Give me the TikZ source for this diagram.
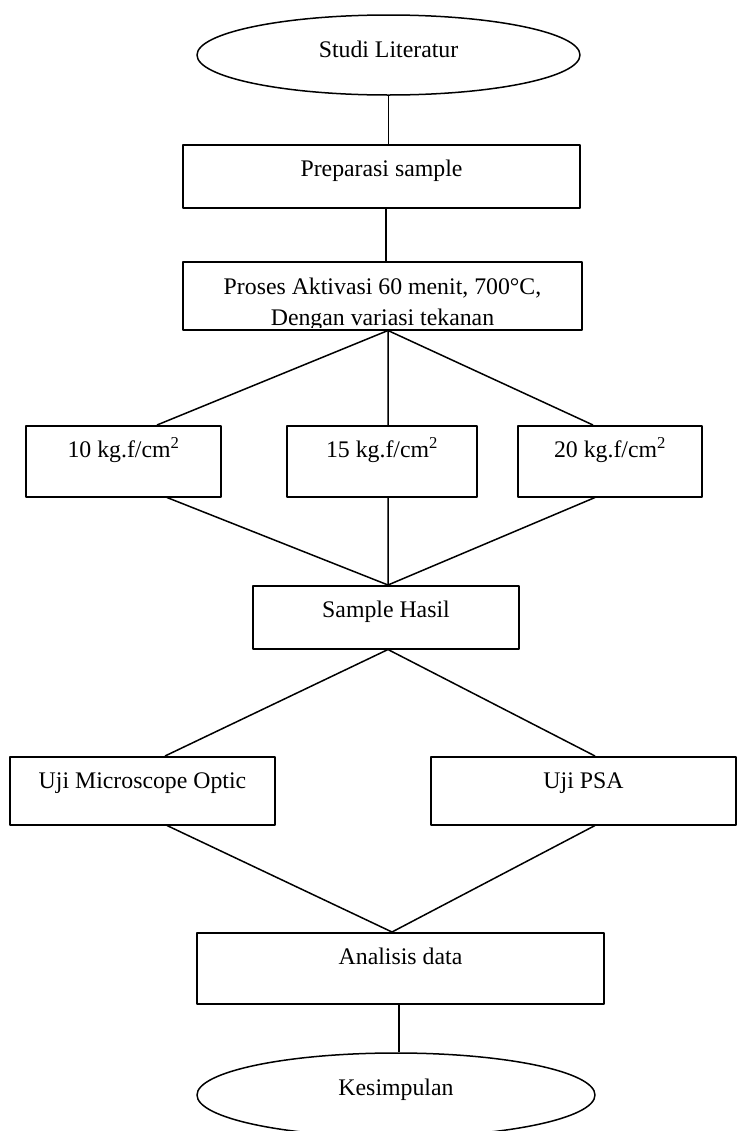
\documentclass[tikz,border=0pt]{standalone}
\usepackage{fontspec}
\setmainfont{Liberation Serif}
\usetikzlibrary{shapes}

\begin{document}
\begin{tikzpicture}[x=1bp,y=-1bp,line join=bevel,
  proc/.style={draw,rectangle,inner sep=0bp,text height=32bp,text depth=#1},
  term/.style={draw,ellipse,inner sep=0bp,text height=16bp,text depth=#1},
  every node/.append style={font=\fontsize{23.8bp}{27bp}\selectfont}]
  \pgfsetlinewidth{1.5bp}
  \useasboundingbox (0,0) rectangle (756,1131);
%%
  % Node: studi
  \node[term=12bp,minimum width=383bp,minimum height=80bp] (studi) at (388.5,55) {Studi Literatur};
  % Node: prep
  \node[proc=31bp,minimum width=397bp,anchor=north] (prep) at (381.5,144) {Preparasi sample};
  % Node: akt
  \node[draw,inner sep=0bp,minimum width=399bp,minimum height=68bp,anchor=north] (akt) at (382.5,261) {};
\begin{scope}
  \clip (akt.north west) rectangle ([yshift=3bp]akt.south east);
  \node[anchor=north,align=center,inner sep=0bp,font=\fontsize{23.8bp}{30.5bp}\selectfont] (aktText) at ([yshift=-16.7bp]akt.north)
    {Proses Aktivasi 60 menit, 700°C,\\Dengan variasi tekanan};
\end{scope}
  % Node: p10
  \node[proc=39bp,minimum width=195bp,anchor=north] (p10) at (123.5,425) {10 kg.f/cm\textsuperscript{2}};
  % Node: p15
  \node[proc=39bp,minimum width=190bp,anchor=north] (p15) at (382,425) {15 kg.f/cm\textsuperscript{2}};
  % Node: p20
  \node[proc=39bp,minimum width=184bp,anchor=north] (p20) at (610,425) {20 kg.f/cm\textsuperscript{2}};
  % Node: hasil
  \node[proc=31bp,minimum width=266bp,anchor=north] (hasil) at (386,585) {Sample Hasil};
  % Node: uom
  \node[proc=36bp,minimum width=265bp,anchor=north] (uom) at (142.5,756) {Uji Microscope Optic};
  % Node: upsa
  \node[proc=36bp,minimum width=305bp,anchor=north] (upsa) at (583.5,756) {Uji PSA};
  % Node: anal
  \node[proc=39bp,minimum width=407bp,anchor=north] (anal) at (400.5,932) {Analisis data};
  % Node: kes
  \node[term=16bp,minimum width=398bp,minimum height=84bp] (kes) at (396,1095) {Kesimpulan};
%%
  % Edge: studi -> prep
  \draw (studi.south) -- (studi.south |- prep.north);
  % Edge: prep -> akt
  \draw ([xshift=4.5bp]prep.south) -- ([xshift=4.5bp]prep.south |- akt.north);
  % Edge: akt -> p10, p15, p20
  \draw ([xshift=5.5bp]akt.south) -- ([xshift=33.5bp]p10.north);
  \draw ([xshift=5.5bp]akt.south) -- ([xshift=6bp]p15.north);
  \draw ([xshift=5.5bp]akt.south) -- ([xshift=-17bp]p20.north);
  % Edge: p10, p15, p20 -> hasil
  \draw ([xshift=43.5bp]p10.south) -- ([xshift=2bp]hasil.north);
  \draw ([xshift=6bp]p15.south) -- ([xshift=2bp]hasil.north);
  \draw ([xshift=-15bp]p20.south) -- ([xshift=2bp]hasil.north);
  % Edge: hasil -> uom, upsa
  \draw ([xshift=2bp]hasil.south) -- ([xshift=22.5bp]uom.north);
  \draw ([xshift=2bp]hasil.south) -- ([xshift=11.5bp]upsa.north);
  % Edge: uom, upsa -> anal
  \draw ([xshift=24.5bp]uom.south) -- ([xshift=-8.5bp]anal.north);
  \draw ([xshift=11.5bp]upsa.south) -- ([xshift=-8.5bp]anal.north);
  % Edge: anal -> kes
  \draw ([xshift=-1.5bp]anal.south) -- ([xshift=-1.5bp]anal.south |- kes.north);
%
\end{tikzpicture}
\end{document}
